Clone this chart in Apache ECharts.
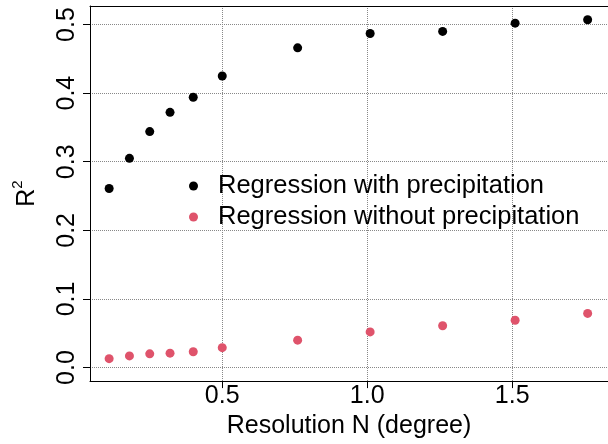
<!DOCTYPE html>
<html>
<head>
<meta charset="utf-8">
<script src="https://cdn.jsdelivr.net/npm/echarts@6/dist/echarts.min.js"></script>
<style>html,body{margin:0;padding:0;background:#fff}#c{width:608px;height:444px}</style>
</head>
<body>
<div id="c"></div>
<script>
const resolution = [0.11, 0.18, 0.25, 0.32, 0.40, 0.50, 0.76, 1.01, 1.26, 1.51, 1.76];
const withPrecip = [0.261, 0.305, 0.344, 0.372, 0.394, 0.425, 0.466, 0.487, 0.490, 0.502, 0.507];
const withoutPrecip = [0.013, 0.017, 0.020, 0.021, 0.023, 0.029, 0.040, 0.052, 0.061, 0.069, 0.079];
const xTicks = [0.5, 1.0, 1.5];
const yTicks = [0.0, 0.1, 0.2, 0.3, 0.4, 0.5];
const seriesNames = ['Regression with precipitation', 'Regression without precipitation'];

const FONT = 'Liberation Sans';
const grid = { color: '#888', width: 1, type: [1, 1] };
const XMIN = 0.044, XMAX = 1.8302;

const chart = echarts.init(document.getElementById('c'), null, { renderer: 'canvas' });
chart.setOption({
  animation: false,
  backgroundColor: '#fff',
  textStyle: { fontFamily: FONT },
  grid: { left: 90, top: 6, right: 0, bottom: 57.5, show: false, containLabel: false },
  xAxis: [{
    type: 'value', min: XMIN, max: XMAX, position: 'bottom',
    name: 'Resolution N (degree)', nameLocation: 'middle', nameGap: 24,
    nameTextStyle: { fontSize: 25, color: '#000', fontFamily: FONT },
    axisLine: { show: true, onZero: false, lineStyle: { color: '#000', width: 1 } },
    axisTick: { show: true, customValues: xTicks, length: 7, lineStyle: { color: '#000' } },
    axisLabel: { customValues: xTicks, fontSize: 25, color: '#000', margin: 3, fontFamily: FONT,
      formatter: v => v.toFixed(1) },
    splitLine: { show: true, customValues: xTicks, lineStyle: grid }
  }, {
    type: 'value', min: XMIN, max: XMAX, position: 'top',
    axisLine: { show: true, onZero: false, lineStyle: { color: '#000', width: 1 } },
    axisTick: { show: false }, axisLabel: { show: false }, splitLine: { show: false }
  }],
  yAxis: {
    type: 'value', min: -0.0197, max: 0.527,
    name: '{r|R}{sup|2}', nameLocation: 'middle', nameGap: 50, nameRotate: 90,
    nameTextStyle: { fontSize: 25, color: '#000', fontFamily: FONT,
      rich: {
        r: { fontSize: 25, lineHeight: 30, verticalAlign: 'bottom', color: '#000', fontFamily: FONT },
        sup: { fontSize: 15, lineHeight: 15, verticalAlign: 'top', color: '#000', fontFamily: FONT }
      } },
    axisLine: { show: true, onZero: false, lineStyle: { color: '#000', width: 1 } },
    axisTick: { show: true, customValues: yTicks, length: 7, lineStyle: { color: '#000' } },
    axisLabel: { customValues: yTicks, fontSize: 25, color: '#000', rotate: 90, margin: 10, fontFamily: FONT,
      formatter: v => v.toFixed(1) },
    splitLine: { show: true, customValues: yTicks, lineStyle: grid }
  },
  legend: {
    orient: 'vertical', left: 184, top: 165.5, itemGap: 0,
    itemWidth: 9, itemHeight: 9, icon: 'circle',
    textStyle: { fontSize: 25.5, color: '#000', lineHeight: 31, padding: [0, 0, 0, 15], fontFamily: FONT },
    data: seriesNames
  },
  series: [
    { name: seriesNames[0], type: 'scatter', symbolSize: 9, xAxisIndex: 0, itemStyle: { color: '#000', opacity: 1 },
      data: resolution.map((x, i) => [x, withPrecip[i]]) },
    { name: seriesNames[1], type: 'scatter', symbolSize: 9, xAxisIndex: 0, itemStyle: { color: '#DF536B', opacity: 1 },
      data: resolution.map((x, i) => [x, withoutPrecip[i]]) }
  ]
});
</script>
</body>
</html>
